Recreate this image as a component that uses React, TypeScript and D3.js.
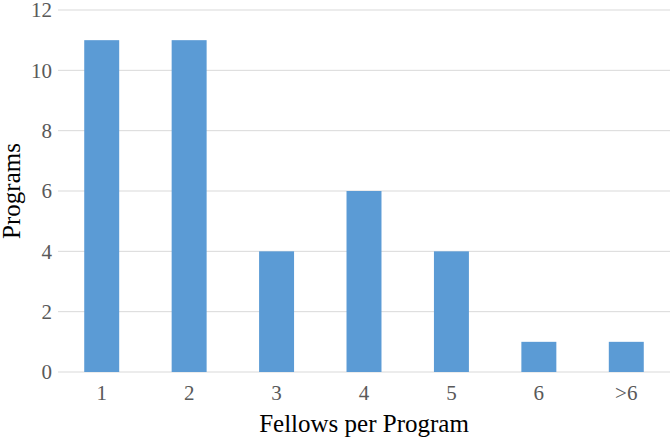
import React, { useEffect, useRef } from "react";
import * as d3 from "d3";

// Chart data
const categories = ["1", "2", "3", "4", "5", "6", ">6"];
const programCounts = [11, 11, 4, 6, 4, 1, 1];
const yTicks = [0, 2, 4, 6, 8, 10, 12];

const App = () => {
  const ref = useRef<SVGSVGElement>(null);

  useEffect(() => {
    const width = 670,
      height = 439;
    const margin = { top: 10, right: 0, bottom: 67, left: 58 };

    const svg = d3.select(ref.current);
    svg.selectAll("*").remove();

    const x = d3
      .scaleBand()
      .domain(categories)
      .range([margin.left, width - margin.right])
      .paddingInner(0.6)
      .paddingOuter(0.3);

    const y = d3
      .scaleLinear()
      .domain([0, 12])
      .range([height - margin.bottom, margin.top]);

    // Gridlines
    svg
      .append("g")
      .selectAll("line")
      .data(yTicks)
      .enter()
      .append("line")
      .attr("x1", margin.left)
      .attr("x2", width - margin.right)
      .attr("y1", (d) => y(d))
      .attr("y2", (d) => y(d))
      .attr("stroke", "#d9d9d9")
      .attr("stroke-width", 1);

    // Bars
    svg
      .append("g")
      .selectAll("rect")
      .data(programCounts)
      .enter()
      .append("rect")
      .attr("x", (d, i) => x(categories[i]) as number)
      .attr("width", x.bandwidth())
      .attr("y", (d) => y(d))
      .attr("height", (d) => y(0) - y(d))
      .attr("fill", "#5b9bd5");

    const font = "'Liberation Serif', 'Times New Roman', serif";

    // Y tick labels
    svg
      .append("g")
      .selectAll("text")
      .data(yTicks)
      .enter()
      .append("text")
      .attr("x", margin.left - 6)
      .attr("y", (d) => y(d))
      .attr("dy", "0.35em")
      .attr("text-anchor", "end")
      .attr("font-family", font)
      .attr("font-size", 21)
      .attr("fill", "#595959")
      .text((d) => d);

    // X tick labels
    svg
      .append("g")
      .selectAll("text")
      .data(categories)
      .enter()
      .append("text")
      .attr("x", (d) => (x(d) as number) + x.bandwidth() / 2)
      .attr("y", y(0) + 28)
      .attr("text-anchor", "middle")
      .attr("font-family", font)
      .attr("font-size", 21)
      .attr("fill", "#595959")
      .text((d) => d);

    // Axis titles
    svg
      .append("text")
      .attr("x", (margin.left + width) / 2 - 0)
      .attr("y", 432)
      .attr("text-anchor", "middle")
      .attr("font-family", font)
      .attr("font-size", 25)
      .attr("fill", "#000")
      .text("Fellows per Program");

    svg
      .append("text")
      .attr("transform", `translate(20, ${y(6)}) rotate(-90)`)
      .attr("text-anchor", "middle")
      .attr("font-family", font)
      .attr("font-size", 25)
      .attr("fill", "#000")
      .text("Programs");
  }, []);

  return (
    <svg
      ref={ref}
      width={670}
      height={439}
      style={{ position: "absolute", left: 0, top: 0 }}
    />
  );
};

export default App;
